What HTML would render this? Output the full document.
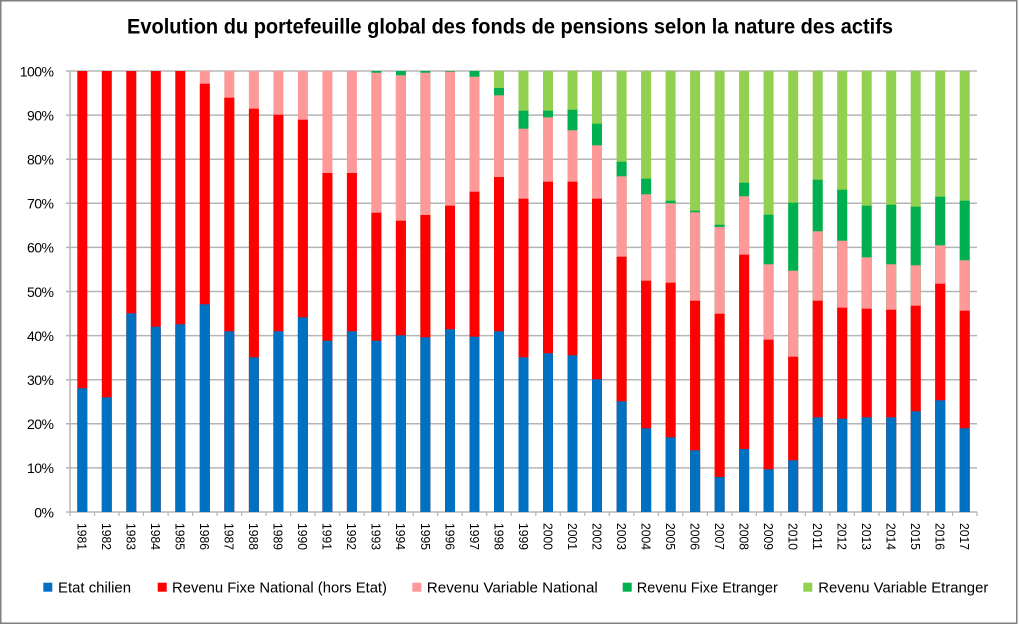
<!DOCTYPE html>
<html><head><meta charset="utf-8"><style>
html,body{margin:0;padding:0;background:#fff;}
svg{display:block;}
text{font-family:"Liberation Sans",Arial,sans-serif;fill:#000;}
</style></head><body>
<svg width="1019" height="626" viewBox="0 0 1019 626" xmlns="http://www.w3.org/2000/svg">
<rect x="0" y="0" width="1019" height="626" fill="#fff"/>
<rect x="0.75" y="0.75" width="1016" height="622.5" fill="none" stroke="#7f7f7f" stroke-width="1.5"/>
<text x="127" y="33.3" font-size="21" font-weight="bold" textLength="766" lengthAdjust="spacingAndGlyphs">Evolution du portefeuille global des fonds de pensions selon la nature des actifs</text>
<g stroke="#b5b5b5" stroke-width="1.5">
<line x1="66" y1="71" x2="977" y2="71"/>
<line x1="66" y1="115.1" x2="977" y2="115.1"/>
<line x1="66" y1="159.2" x2="977" y2="159.2"/>
<line x1="66" y1="203.3" x2="977" y2="203.3"/>
<line x1="66" y1="247.4" x2="977" y2="247.4"/>
<line x1="66" y1="291.5" x2="977" y2="291.5"/>
<line x1="66" y1="335.6" x2="977" y2="335.6"/>
<line x1="66" y1="379.7" x2="977" y2="379.7"/>
<line x1="66" y1="423.8" x2="977" y2="423.8"/>
<line x1="66" y1="467.9" x2="977" y2="467.9"/>
<line x1="66" y1="512" x2="977" y2="512"/>
<line x1="70" y1="71" x2="70" y2="512"/>
</g>
<g stroke="#b5b5b5" stroke-width="1.2">
<line x1="70" y1="512" x2="70" y2="516"/><line x1="94.5" y1="512" x2="94.5" y2="516"/><line x1="119" y1="512" x2="119" y2="516"/><line x1="143.5" y1="512" x2="143.5" y2="516"/><line x1="168.1" y1="512" x2="168.1" y2="516"/><line x1="192.6" y1="512" x2="192.6" y2="516"/><line x1="217.1" y1="512" x2="217.1" y2="516"/><line x1="241.6" y1="512" x2="241.6" y2="516"/><line x1="266.1" y1="512" x2="266.1" y2="516"/><line x1="290.6" y1="512" x2="290.6" y2="516"/><line x1="315.1" y1="512" x2="315.1" y2="516"/><line x1="339.7" y1="512" x2="339.7" y2="516"/><line x1="364.2" y1="512" x2="364.2" y2="516"/><line x1="388.7" y1="512" x2="388.7" y2="516"/><line x1="413.2" y1="512" x2="413.2" y2="516"/><line x1="437.7" y1="512" x2="437.7" y2="516"/><line x1="462.2" y1="512" x2="462.2" y2="516"/><line x1="486.7" y1="512" x2="486.7" y2="516"/><line x1="511.2" y1="512" x2="511.2" y2="516"/><line x1="535.8" y1="512" x2="535.8" y2="516"/><line x1="560.3" y1="512" x2="560.3" y2="516"/><line x1="584.8" y1="512" x2="584.8" y2="516"/><line x1="609.3" y1="512" x2="609.3" y2="516"/><line x1="633.8" y1="512" x2="633.8" y2="516"/><line x1="658.3" y1="512" x2="658.3" y2="516"/><line x1="682.8" y1="512" x2="682.8" y2="516"/><line x1="707.4" y1="512" x2="707.4" y2="516"/><line x1="731.9" y1="512" x2="731.9" y2="516"/><line x1="756.4" y1="512" x2="756.4" y2="516"/><line x1="780.9" y1="512" x2="780.9" y2="516"/><line x1="805.4" y1="512" x2="805.4" y2="516"/><line x1="829.9" y1="512" x2="829.9" y2="516"/><line x1="854.4" y1="512" x2="854.4" y2="516"/><line x1="879" y1="512" x2="879" y2="516"/><line x1="903.5" y1="512" x2="903.5" y2="516"/><line x1="928" y1="512" x2="928" y2="516"/><line x1="952.5" y1="512" x2="952.5" y2="516"/><line x1="977" y1="512" x2="977" y2="516"/>
</g>
<g font-size="14" text-anchor="end" letter-spacing="-0.5">
<text x="53.5" y="76.3">100%</text>
<text x="53.5" y="120.4">90%</text>
<text x="53.5" y="164.5">80%</text>
<text x="53.5" y="208.6">70%</text>
<text x="53.5" y="252.7">60%</text>
<text x="53.5" y="296.8">50%</text>
<text x="53.5" y="340.9">40%</text>
<text x="53.5" y="385">30%</text>
<text x="53.5" y="429.1">20%</text>
<text x="53.5" y="473.2">10%</text>
<text x="53.5" y="517.3">0%</text>
</g>
<g>
<!-- 1981 -->
<rect x="77.3" y="71" width="10" height="441" fill="#ff0000"/><rect x="77.3" y="388.3" width="10" height="123.7" fill="#0070c0"/>
<!-- 1982 -->
<rect x="101.8" y="71" width="10" height="441" fill="#ff0000"/><rect x="101.8" y="397.3" width="10" height="114.7" fill="#0070c0"/>
<!-- 1983 -->
<rect x="126.3" y="71" width="10" height="441" fill="#ff0000"/><rect x="126.3" y="313.3" width="10" height="198.7" fill="#0070c0"/>
<!-- 1984 -->
<rect x="150.8" y="71" width="10" height="441" fill="#ff0000"/><rect x="150.8" y="326.7" width="10" height="185.3" fill="#0070c0"/>
<!-- 1985 -->
<rect x="175.3" y="71" width="10" height="441" fill="#ff0000"/><rect x="175.3" y="324.3" width="10" height="187.7" fill="#0070c0"/>
<!-- 1986 -->
<rect x="199.8" y="71" width="10" height="441" fill="#ff9999"/><rect x="199.8" y="83.7" width="10" height="428.3" fill="#ff0000"/><rect x="199.8" y="304.3" width="10" height="207.7" fill="#0070c0"/>
<!-- 1987 -->
<rect x="224.3" y="71" width="10" height="441" fill="#ff9999"/><rect x="224.3" y="97.7" width="10" height="414.3" fill="#ff0000"/><rect x="224.3" y="331.3" width="10" height="180.7" fill="#0070c0"/>
<!-- 1988 -->
<rect x="248.9" y="71" width="10" height="441" fill="#ff9999"/><rect x="248.9" y="108.7" width="10" height="403.3" fill="#ff0000"/><rect x="248.9" y="357.3" width="10" height="154.7" fill="#0070c0"/>
<!-- 1989 -->
<rect x="273.4" y="71" width="10" height="441" fill="#ff9999"/><rect x="273.4" y="114.7" width="10" height="397.3" fill="#ff0000"/><rect x="273.4" y="331.3" width="10" height="180.7" fill="#0070c0"/>
<!-- 1990 -->
<rect x="297.9" y="71" width="10" height="441" fill="#ff9999"/><rect x="297.9" y="119.7" width="10" height="392.3" fill="#ff0000"/><rect x="297.9" y="317.3" width="10" height="194.7" fill="#0070c0"/>
<!-- 1991 -->
<rect x="322.4" y="71" width="10" height="441" fill="#ff9999"/><rect x="322.4" y="173" width="10" height="339" fill="#ff0000"/><rect x="322.4" y="340.7" width="10" height="171.3" fill="#0070c0"/>
<!-- 1992 -->
<rect x="346.9" y="71" width="10" height="441" fill="#ff9999"/><rect x="346.9" y="173" width="10" height="339" fill="#ff0000"/><rect x="346.9" y="331.3" width="10" height="180.7" fill="#0070c0"/>
<!-- 1993 -->
<rect x="371.4" y="71" width="10" height="441" fill="#00b050"/><rect x="371.4" y="72.7" width="10" height="439.3" fill="#ff9999"/><rect x="371.4" y="212.7" width="10" height="299.3" fill="#ff0000"/><rect x="371.4" y="340.7" width="10" height="171.3" fill="#0070c0"/>
<!-- 1994 -->
<rect x="395.9" y="71" width="10" height="441" fill="#00b050"/><rect x="395.9" y="75.3" width="10" height="436.7" fill="#ff9999"/><rect x="395.9" y="220.7" width="10" height="291.3" fill="#ff0000"/><rect x="395.9" y="335.3" width="10" height="176.7" fill="#0070c0"/>
<!-- 1995 -->
<rect x="420.4" y="71" width="10" height="441" fill="#00b050"/><rect x="420.4" y="72.7" width="10" height="439.3" fill="#ff9999"/><rect x="420.4" y="215" width="10" height="297" fill="#ff0000"/><rect x="420.4" y="337.3" width="10" height="174.7" fill="#0070c0"/>
<!-- 1996 -->
<rect x="445" y="71" width="10" height="441" fill="#00b050"/><rect x="445" y="71.7" width="10" height="440.3" fill="#ff9999"/><rect x="445" y="205.7" width="10" height="306.3" fill="#ff0000"/><rect x="445" y="329.3" width="10" height="182.7" fill="#0070c0"/>
<!-- 1997 -->
<rect x="469.5" y="71" width="10" height="441" fill="#00b050"/><rect x="469.5" y="76.7" width="10" height="435.3" fill="#ff9999"/><rect x="469.5" y="191.7" width="10" height="320.3" fill="#ff0000"/><rect x="469.5" y="336.7" width="10" height="175.3" fill="#0070c0"/>
<!-- 1998 -->
<rect x="494" y="71" width="10" height="441" fill="#92d050"/><rect x="494" y="88" width="10" height="424" fill="#00b050"/><rect x="494" y="95.3" width="10" height="416.7" fill="#ff9999"/><rect x="494" y="177" width="10" height="335" fill="#ff0000"/><rect x="494" y="331.3" width="10" height="180.7" fill="#0070c0"/>
<!-- 1999 -->
<rect x="518.5" y="71" width="10" height="441" fill="#92d050"/><rect x="518.5" y="110.7" width="10" height="401.3" fill="#00b050"/><rect x="518.5" y="128.7" width="10" height="383.3" fill="#ff9999"/><rect x="518.5" y="198.7" width="10" height="313.3" fill="#ff0000"/><rect x="518.5" y="357.3" width="10" height="154.7" fill="#0070c0"/>
<!-- 2000 -->
<rect x="543" y="71" width="10" height="441" fill="#92d050"/><rect x="543" y="110.7" width="10" height="401.3" fill="#00b050"/><rect x="543" y="117.3" width="10" height="394.7" fill="#ff9999"/><rect x="543" y="181.7" width="10" height="330.3" fill="#ff0000"/><rect x="543" y="353.3" width="10" height="158.7" fill="#0070c0"/>
<!-- 2001 -->
<rect x="567.5" y="71" width="10" height="441" fill="#92d050"/><rect x="567.5" y="109.7" width="10" height="402.3" fill="#00b050"/><rect x="567.5" y="130.3" width="10" height="381.7" fill="#ff9999"/><rect x="567.5" y="181.7" width="10" height="330.3" fill="#ff0000"/><rect x="567.5" y="355.3" width="10" height="156.7" fill="#0070c0"/>
<!-- 2002 -->
<rect x="592" y="71" width="10" height="441" fill="#92d050"/><rect x="592" y="123.7" width="10" height="388.3" fill="#00b050"/><rect x="592" y="145.3" width="10" height="366.7" fill="#ff9999"/><rect x="592" y="198.7" width="10" height="313.3" fill="#ff0000"/><rect x="592" y="379.3" width="10" height="132.7" fill="#0070c0"/>
<!-- 2003 -->
<rect x="616.6" y="71" width="10" height="441" fill="#92d050"/><rect x="616.6" y="161.7" width="10" height="350.3" fill="#00b050"/><rect x="616.6" y="176.3" width="10" height="335.7" fill="#ff9999"/><rect x="616.6" y="256.7" width="10" height="255.3" fill="#ff0000"/><rect x="616.6" y="401.3" width="10" height="110.7" fill="#0070c0"/>
<!-- 2004 -->
<rect x="641.1" y="71" width="10" height="441" fill="#92d050"/><rect x="641.1" y="178.7" width="10" height="333.3" fill="#00b050"/><rect x="641.1" y="194.3" width="10" height="317.7" fill="#ff9999"/><rect x="641.1" y="280.7" width="10" height="231.3" fill="#ff0000"/><rect x="641.1" y="428.3" width="10" height="83.7" fill="#0070c0"/>
<!-- 2005 -->
<rect x="665.6" y="71" width="10" height="441" fill="#92d050"/><rect x="665.6" y="200.7" width="10" height="311.3" fill="#00b050"/><rect x="665.6" y="203.3" width="10" height="308.7" fill="#ff9999"/><rect x="665.6" y="282.7" width="10" height="229.3" fill="#ff0000"/><rect x="665.6" y="437.3" width="10" height="74.7" fill="#0070c0"/>
<!-- 2006 -->
<rect x="690.1" y="71" width="10" height="441" fill="#92d050"/><rect x="690.1" y="210.7" width="10" height="301.3" fill="#00b050"/><rect x="690.1" y="212.3" width="10" height="299.7" fill="#ff9999"/><rect x="690.1" y="300.7" width="10" height="211.3" fill="#ff0000"/><rect x="690.1" y="450.3" width="10" height="61.7" fill="#0070c0"/>
<!-- 2007 -->
<rect x="714.6" y="71" width="10" height="441" fill="#92d050"/><rect x="714.6" y="224.7" width="10" height="287.3" fill="#00b050"/><rect x="714.6" y="227" width="10" height="285" fill="#ff9999"/><rect x="714.6" y="313.7" width="10" height="198.3" fill="#ff0000"/><rect x="714.6" y="477" width="10" height="35" fill="#0070c0"/>
<!-- 2008 -->
<rect x="739.1" y="71" width="10" height="441" fill="#92d050"/><rect x="739.1" y="182.7" width="10" height="329.3" fill="#00b050"/><rect x="739.1" y="196.3" width="10" height="315.7" fill="#ff9999"/><rect x="739.1" y="254.7" width="10" height="257.3" fill="#ff0000"/><rect x="739.1" y="449" width="10" height="63" fill="#0070c0"/>
<!-- 2009 -->
<rect x="763.6" y="71" width="10" height="441" fill="#92d050"/><rect x="763.6" y="214.7" width="10" height="297.3" fill="#00b050"/><rect x="763.6" y="264.3" width="10" height="247.7" fill="#ff9999"/><rect x="763.6" y="339.7" width="10" height="172.3" fill="#ff0000"/><rect x="763.6" y="469.3" width="10" height="42.7" fill="#0070c0"/>
<!-- 2010 -->
<rect x="788.2" y="71" width="10" height="441" fill="#92d050"/><rect x="788.2" y="202.7" width="10" height="309.3" fill="#00b050"/><rect x="788.2" y="270.7" width="10" height="241.3" fill="#ff9999"/><rect x="788.2" y="356.7" width="10" height="155.3" fill="#ff0000"/><rect x="788.2" y="460.3" width="10" height="51.7" fill="#0070c0"/>
<!-- 2011 -->
<rect x="812.7" y="71" width="10" height="441" fill="#92d050"/><rect x="812.7" y="179.7" width="10" height="332.3" fill="#00b050"/><rect x="812.7" y="231.3" width="10" height="280.7" fill="#ff9999"/><rect x="812.7" y="300.7" width="10" height="211.3" fill="#ff0000"/><rect x="812.7" y="417.3" width="10" height="94.7" fill="#0070c0"/>
<!-- 2012 -->
<rect x="837.2" y="71" width="10" height="441" fill="#92d050"/><rect x="837.2" y="189.7" width="10" height="322.3" fill="#00b050"/><rect x="837.2" y="240.7" width="10" height="271.3" fill="#ff9999"/><rect x="837.2" y="307.7" width="10" height="204.3" fill="#ff0000"/><rect x="837.2" y="418.7" width="10" height="93.3" fill="#0070c0"/>
<!-- 2013 -->
<rect x="861.7" y="71" width="10" height="441" fill="#92d050"/><rect x="861.7" y="205.7" width="10" height="306.3" fill="#00b050"/><rect x="861.7" y="257.3" width="10" height="254.7" fill="#ff9999"/><rect x="861.7" y="308.7" width="10" height="203.3" fill="#ff0000"/><rect x="861.7" y="417.3" width="10" height="94.7" fill="#0070c0"/>
<!-- 2014 -->
<rect x="886.2" y="71" width="10" height="441" fill="#92d050"/><rect x="886.2" y="204.7" width="10" height="307.3" fill="#00b050"/><rect x="886.2" y="264.3" width="10" height="247.7" fill="#ff9999"/><rect x="886.2" y="309.7" width="10" height="202.3" fill="#ff0000"/><rect x="886.2" y="417.3" width="10" height="94.7" fill="#0070c0"/>
<!-- 2015 -->
<rect x="910.7" y="71" width="10" height="441" fill="#92d050"/><rect x="910.7" y="206.7" width="10" height="305.3" fill="#00b050"/><rect x="910.7" y="265.3" width="10" height="246.7" fill="#ff9999"/><rect x="910.7" y="305.7" width="10" height="206.3" fill="#ff0000"/><rect x="910.7" y="411.3" width="10" height="100.7" fill="#0070c0"/>
<!-- 2016 -->
<rect x="935.2" y="71" width="10" height="441" fill="#92d050"/><rect x="935.2" y="196.7" width="10" height="315.3" fill="#00b050"/><rect x="935.2" y="245.3" width="10" height="266.7" fill="#ff9999"/><rect x="935.2" y="283.7" width="10" height="228.3" fill="#ff0000"/><rect x="935.2" y="400.3" width="10" height="111.7" fill="#0070c0"/>
<!-- 2017 -->
<rect x="959.7" y="71" width="10" height="441" fill="#92d050"/><rect x="959.7" y="200.7" width="10" height="311.3" fill="#00b050"/><rect x="959.7" y="260.3" width="10" height="251.7" fill="#ff9999"/><rect x="959.7" y="310.7" width="10" height="201.3" fill="#ff0000"/><rect x="959.7" y="428.3" width="10" height="83.7" fill="#0070c0"/>
</g>
<g font-size="13">
<text transform="translate(77.6,523) rotate(90)" textLength="27" lengthAdjust="spacingAndGlyphs">1981</text>
<text transform="translate(102.1,523) rotate(90)" textLength="27" lengthAdjust="spacingAndGlyphs">1982</text>
<text transform="translate(126.6,523) rotate(90)" textLength="27" lengthAdjust="spacingAndGlyphs">1983</text>
<text transform="translate(151.1,523) rotate(90)" textLength="27" lengthAdjust="spacingAndGlyphs">1984</text>
<text transform="translate(175.6,523) rotate(90)" textLength="27" lengthAdjust="spacingAndGlyphs">1985</text>
<text transform="translate(200.1,523) rotate(90)" textLength="27" lengthAdjust="spacingAndGlyphs">1986</text>
<text transform="translate(224.6,523) rotate(90)" textLength="27" lengthAdjust="spacingAndGlyphs">1987</text>
<text transform="translate(249.2,523) rotate(90)" textLength="27" lengthAdjust="spacingAndGlyphs">1988</text>
<text transform="translate(273.7,523) rotate(90)" textLength="27" lengthAdjust="spacingAndGlyphs">1989</text>
<text transform="translate(298.2,523) rotate(90)" textLength="27" lengthAdjust="spacingAndGlyphs">1990</text>
<text transform="translate(322.7,523) rotate(90)" textLength="27" lengthAdjust="spacingAndGlyphs">1991</text>
<text transform="translate(347.2,523) rotate(90)" textLength="27" lengthAdjust="spacingAndGlyphs">1992</text>
<text transform="translate(371.7,523) rotate(90)" textLength="27" lengthAdjust="spacingAndGlyphs">1993</text>
<text transform="translate(396.2,523) rotate(90)" textLength="27" lengthAdjust="spacingAndGlyphs">1994</text>
<text transform="translate(420.8,523) rotate(90)" textLength="27" lengthAdjust="spacingAndGlyphs">1995</text>
<text transform="translate(445.3,523) rotate(90)" textLength="27" lengthAdjust="spacingAndGlyphs">1996</text>
<text transform="translate(469.8,523) rotate(90)" textLength="27" lengthAdjust="spacingAndGlyphs">1997</text>
<text transform="translate(494.3,523) rotate(90)" textLength="27" lengthAdjust="spacingAndGlyphs">1998</text>
<text transform="translate(518.8,523) rotate(90)" textLength="27" lengthAdjust="spacingAndGlyphs">1999</text>
<text transform="translate(543.3,523) rotate(90)" textLength="27" lengthAdjust="spacingAndGlyphs">2000</text>
<text transform="translate(567.8,523) rotate(90)" textLength="27" lengthAdjust="spacingAndGlyphs">2001</text>
<text transform="translate(592.3,523) rotate(90)" textLength="27" lengthAdjust="spacingAndGlyphs">2002</text>
<text transform="translate(616.9,523) rotate(90)" textLength="27" lengthAdjust="spacingAndGlyphs">2003</text>
<text transform="translate(641.4,523) rotate(90)" textLength="27" lengthAdjust="spacingAndGlyphs">2004</text>
<text transform="translate(665.9,523) rotate(90)" textLength="27" lengthAdjust="spacingAndGlyphs">2005</text>
<text transform="translate(690.4,523) rotate(90)" textLength="27" lengthAdjust="spacingAndGlyphs">2006</text>
<text transform="translate(714.9,523) rotate(90)" textLength="27" lengthAdjust="spacingAndGlyphs">2007</text>
<text transform="translate(739.4,523) rotate(90)" textLength="27" lengthAdjust="spacingAndGlyphs">2008</text>
<text transform="translate(764,523) rotate(90)" textLength="27" lengthAdjust="spacingAndGlyphs">2009</text>
<text transform="translate(788.5,523) rotate(90)" textLength="27" lengthAdjust="spacingAndGlyphs">2010</text>
<text transform="translate(813,523) rotate(90)" textLength="27" lengthAdjust="spacingAndGlyphs">2011</text>
<text transform="translate(837.5,523) rotate(90)" textLength="27" lengthAdjust="spacingAndGlyphs">2012</text>
<text transform="translate(862,523) rotate(90)" textLength="27" lengthAdjust="spacingAndGlyphs">2013</text>
<text transform="translate(886.5,523) rotate(90)" textLength="27" lengthAdjust="spacingAndGlyphs">2014</text>
<text transform="translate(911,523) rotate(90)" textLength="27" lengthAdjust="spacingAndGlyphs">2015</text>
<text transform="translate(935.5,523) rotate(90)" textLength="27" lengthAdjust="spacingAndGlyphs">2016</text>
<text transform="translate(960.1,523) rotate(90)" textLength="27" lengthAdjust="spacingAndGlyphs">2017</text>
</g>
<g font-size="15">
<rect x="43.3" y="582.7" width="9" height="9" fill="#0070c0"/>
<text x="58" y="592.7" textLength="73" lengthAdjust="spacingAndGlyphs">Etat chilien</text>
<rect x="157.7" y="582.7" width="9" height="9" fill="#ff0000"/>
<text x="172" y="592.7" textLength="215" lengthAdjust="spacingAndGlyphs">Revenu Fixe National (hors Etat)</text>
<rect x="412.3" y="582.7" width="9" height="9" fill="#ff9999"/>
<text x="426.8" y="592.7" textLength="171" lengthAdjust="spacingAndGlyphs">Revenu Variable National</text>
<rect x="622.7" y="582.7" width="9" height="9" fill="#00b050"/>
<text x="636.8" y="592.7" textLength="141" lengthAdjust="spacingAndGlyphs">Revenu Fixe Etranger</text>
<rect x="803.3" y="582.7" width="9" height="9" fill="#92d050"/>
<text x="818.3" y="592.7" textLength="170" lengthAdjust="spacingAndGlyphs">Revenu Variable Etranger</text>
</g>
</svg>
</body></html>
